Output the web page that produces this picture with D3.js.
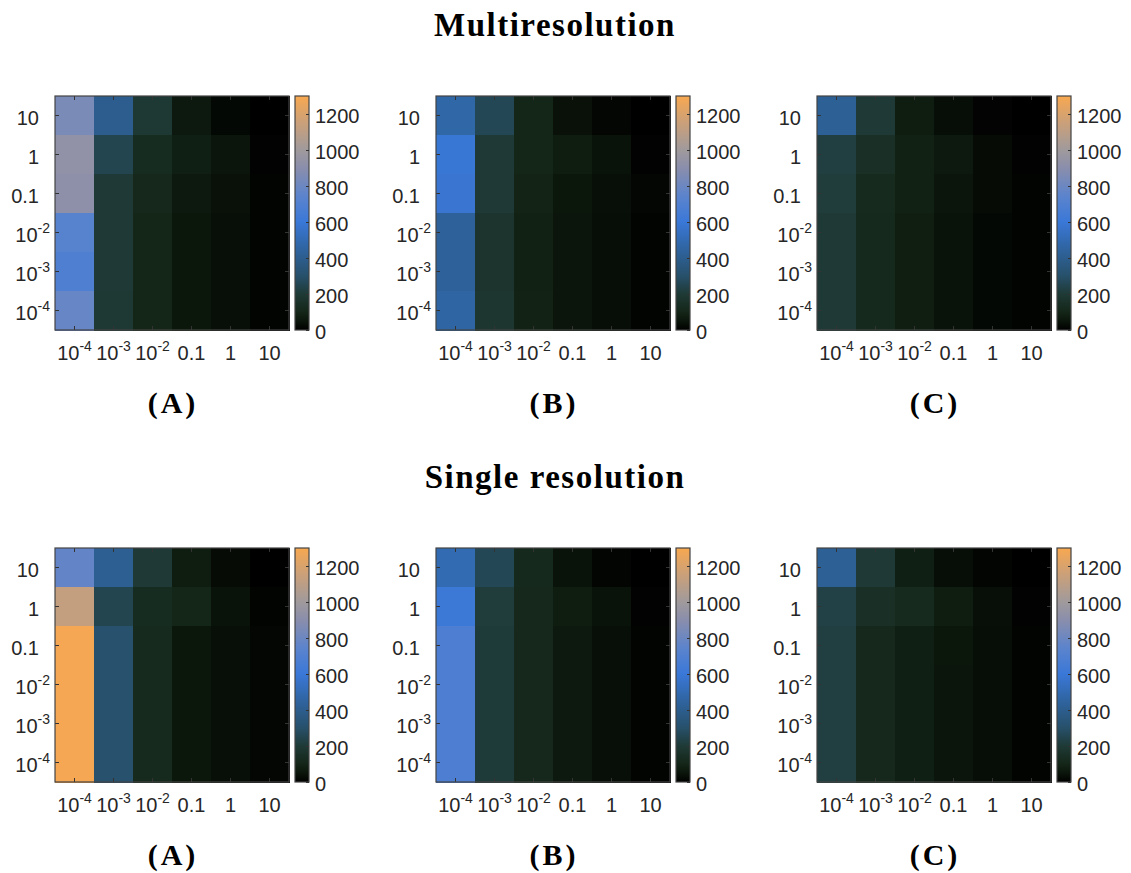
<!DOCTYPE html>
<html>
<head>
<meta charset="utf-8">
<script src="https://cdn.jsdelivr.net/npm/d3@7"></script>
<style>
  body { margin: 0; background: #fff; }
  svg { display: block; }
</style>
</head>
<body>
<svg id="chart"></svg>
<script>
// tick labels (y from top to bottom)
let xLabels = ['10^-4', '10^-3', '10^-2', '0.1', '1', '10'];
let yLabels = ['10', '1', '0.1', '10^-2', '10^-3', '10^-4'];
let cbTicks = [0, 200, 400, 600, 800, 1000, 1200];
let panelNames = ['(A)', '(B)', '(C)'];
let rowTitles = ['Multiresolution', 'Single resolution'];

// cell values, rows = y labels top to bottom, cols = x labels
let multiA = [
    [850, 400, 190, 60, 20, 0],
    [930, 250, 130, 80, 50, 5],
    [920, 200, 110, 60, 40, 10],
    [720, 200, 100, 55, 35, 10],
    [690, 200, 100, 55, 35, 10],
    [780, 190, 100, 55, 35, 10]
];
let multiB = [
    [470, 260, 100, 40, 15, 0],
    [590, 200, 100, 70, 45, 5],
    [580, 200, 95, 55, 35, 15],
    [430, 170, 85, 50, 30, 10],
    [430, 170, 85, 50, 30, 10],
    [460, 180, 90, 50, 30, 10]
];
let multiC = [
    [420, 200, 70, 30, 8, 0],
    [220, 150, 85, 60, 25, 5],
    [210, 120, 85, 50, 25, 10],
    [200, 115, 75, 45, 20, 10],
    [200, 115, 75, 45, 20, 10],
    [200, 115, 75, 45, 20, 10]
];
let singleA = [
    [770, 410, 200, 70, 25, 0],
    [1130, 250, 130, 100, 45, 10],
    [1290, 310, 120, 55, 35, 15],
    [1290, 310, 120, 55, 35, 15],
    [1290, 310, 120, 55, 35, 15],
    [1290, 310, 120, 55, 35, 15]
];
let singleB = [
    [500, 260, 115, 45, 12, 0],
    [610, 210, 110, 70, 45, 5],
    [680, 205, 110, 60, 35, 10],
    [680, 205, 110, 60, 35, 10],
    [680, 205, 110, 60, 35, 10],
    [680, 205, 110, 60, 35, 10]
];
let singleC = [
    [420, 200, 80, 30, 12, 0],
    [230, 150, 120, 70, 35, 5],
    [220, 110, 80, 55, 30, 10],
    [220, 110, 80, 50, 30, 10],
    [220, 110, 80, 50, 30, 10],
    [220, 110, 80, 50, 30, 10]
];

// colormap
let cmapStops = [0, 50, 100, 200, 300, 450, 600, 750, 900, 1000, 1150, 1300];
let cmapColors = ['#000000', '#0b150b', '#142618', '#1f3a36', '#27506a', '#2f64a0',
                  '#3a78d8', '#5d84cc', '#8a8eac', '#a09a9c', '#caa07a', '#f8a850'];

let width = 1131;
let height = 873;
let size = 234;
let cbWidth = 14;
let lefts = [55, 436, 817];
let tops = [96, 548];
let font = "'Liberation Sans', Arial, sans-serif";
let serif = "'Liberation Serif', 'Times New Roman', serif";

let svg = d3.select('#chart').attr('width', width).attr('height', height);

let color = d3.scaleLinear().domain(cmapStops).range(cmapColors).clamp(true);

// gradient for colorbars
let grad = svg.append('defs').append('linearGradient')
    .attr('id', 'cmap')
    .attr('x1', 0).attr('y1', 1).attr('x2', 0).attr('y2', 0);
grad.selectAll('stop')
    .data(cmapStops)
    .enter()
    .append('stop')
    .attr('offset', d => d / 1300)
    .attr('stop-color', d => color(d));

const setLabel = (sel) => {
    sel.each(function () {
        let t = d3.select(this);
        let parts = t.datum().split('^');
        t.text(null);
        t.append('tspan').text(parts[0]);
        if (parts.length > 1) {
            t.append('tspan').attr('dy', -9).attr('font-size', 14).text(parts[1]);
        }
    });
};

const drawHeatmap = (matrix, left, top) => {
    let g = svg.append('g');

    let x = d3.scaleBand().domain(xLabels).range([left, left + size]);
    let y = d3.scaleBand().domain(yLabels).range([top, top + size]);

    let cells = [];
    matrix.forEach((row, r) => {
        row.forEach((v, c) => {
            cells.push({ xl: xLabels[c], yl: yLabels[r], v: v });
        });
    });

    g.selectAll('rect.cell')
        .data(cells)
        .enter()
        .append('rect')
        .attr('class', 'cell')
        .attr('x', d => x(d.xl))
        .attr('y', d => y(d.yl))
        .attr('width', x.bandwidth() + 0.5)
        .attr('height', y.bandwidth() + 0.5)
        .attr('fill', d => color(d.v))
        .attr('shape-rendering', 'crispEdges');

    // inward ticks on all four sides
    let axes = [
        [d3.axisBottom(x), `translate(0, ${top + size})`],
        [d3.axisTop(x), `translate(0, ${top})`],
        [d3.axisLeft(y), `translate(${left}, 0)`],
        [d3.axisRight(y), `translate(${left + size}, 0)`]
    ];
    axes.forEach(([ax, tr]) => {
        let a = g.append('g')
            .attr('transform', tr)
            .call(ax.tickSizeInner(-4).tickSizeOuter(0).tickFormat(''));
        a.select('.domain').remove();
        a.selectAll('line').attr('stroke', '#333').attr('stroke-width', 1);
    });

    // x labels
    g.append('g')
        .selectAll('text')
        .data(xLabels)
        .enter()
        .append('text')
        .attr('x', d => x(d) + x.bandwidth() / 2)
        .attr('y', top + size + 30)
        .attr('text-anchor', 'middle')
        .attr('font-family', font)
        .attr('font-size', 20)
        .attr('fill', '#262626')
        .call(setLabel);

    // y labels
    g.append('g')
        .selectAll('text')
        .data(yLabels)
        .enter()
        .append('text')
        .attr('x', d => d.includes('^') ? left - 5 : left - 16)
        .attr('y', d => y(d) + y.bandwidth() / 2 + 9)
        .attr('text-anchor', 'end')
        .attr('font-family', font)
        .attr('font-size', 20)
        .attr('fill', '#262626')
        .call(setLabel);

    // frame
    g.append('rect')
        .attr('x', left).attr('y', top)
        .attr('width', size).attr('height', size)
        .attr('fill', 'none')
        .attr('stroke', '#444')
        .attr('stroke-width', 1.2);

    // colorbar
    let cbx = left + size + 6;
    let cScale = d3.scaleLinear().domain([0, 1300]).range([top + size, top]);
    g.append('rect')
        .attr('x', cbx).attr('y', top)
        .attr('width', cbWidth).attr('height', size)
        .attr('fill', 'url(#cmap)')
        .attr('stroke', '#444')
        .attr('stroke-width', 1.2);

    let cAxis = g.append('g')
        .attr('transform', `translate(${cbx + cbWidth}, 0)`)
        .call(d3.axisRight(cScale).tickValues(cbTicks).tickFormat(d3.format('d'))
            .tickSizeInner(-3).tickSizeOuter(0).tickPadding(6));
    cAxis.select('.domain').remove();
    cAxis.selectAll('line').attr('stroke', '#333');
    cAxis.selectAll('text')
        .attr('dy', 0)
        .attr('y', 8)
        .attr('font-family', font)
        .attr('font-size', 20)
        .attr('fill', '#262626');
};

let panels = [[multiA, multiB, multiC], [singleA, singleB, singleC]];

panels.forEach((row, r) => {
    row.forEach((m, c) => {
        drawHeatmap(m, lefts[c], tops[r]);
        svg.append('text')
            .attr('x', lefts[c] + size / 2 + 1)
            .attr('y', tops[r] + size + 83)
            .attr('text-anchor', 'middle')
            .attr('font-family', serif)
            .attr('font-weight', 'bold')
            .attr('font-size', 30)
            .attr('letter-spacing', 3)
            .attr('fill', '#000')
            .text(panelNames[c]);
    });
    svg.append('text')
        .attr('x', 555)
        .attr('y', tops[r] - 60)
        .attr('text-anchor', 'middle')
        .attr('font-family', serif)
        .attr('font-weight', 'bold')
        .attr('font-size', 33)
        .attr('letter-spacing', 1.5)
        .attr('fill', '#000')
        .text(rowTitles[r]);
});
</script>
</body>
</html>
